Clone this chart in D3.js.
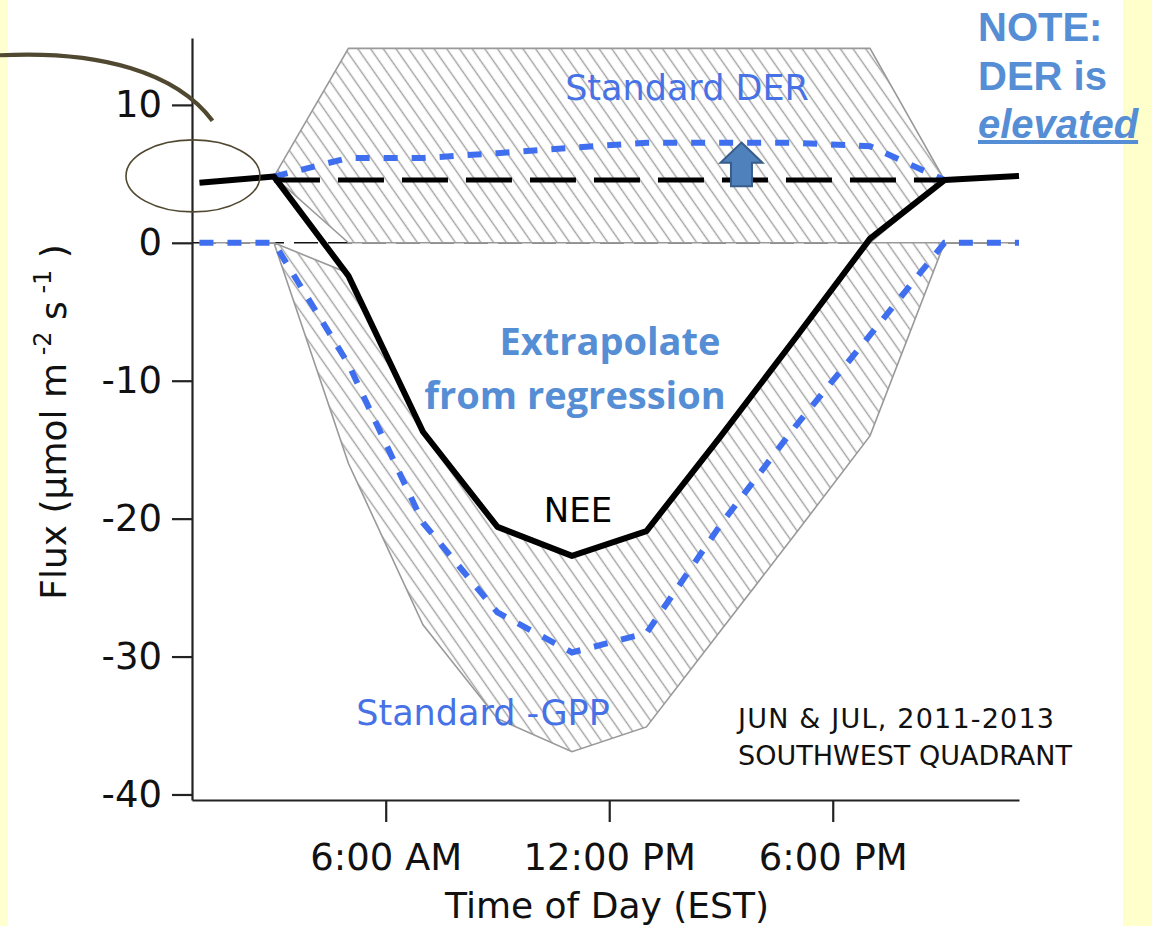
<!DOCTYPE html>
<html>
<head>
<meta charset="utf-8">
<script src="https://cdn.jsdelivr.net/npm/d3@7"></script>
<style>
  html, body { margin: 0; padding: 0; background: #ffffff; }
  svg { display: block; }
</style>
</head>
<body>
<svg id="chart" width="1152" height="926"></svg>
<script>
// Hourly bin centres (EST), two-hour resolution
const hours = [1, 3, 5, 7, 9, 11, 13, 15, 17, 19, 21, 23];

// Net ecosystem exchange (µmol m-2 s-1)
const nee = [4.35, 4.8, -2.4, -13.7, -20.6, -22.7, -20.9, -14.0, -6.9, 0.3, 4.55, 4.85];

// Standard -GPP: mean and band limits
const gppMean  = [0, 0, -8.8, -20.3, -26.8, -29.7, -28.3, -20.4, -13.3, -6.7, 0, 0];
const gppUpper = [0, 0, -2.2, -13.7, -20.6, -22.7, -20.9, -14.0, -6.9, 0, 0, 0];
const gppLower = [0, 0, -16.0, -27.7, -34.5, -36.9, -35.1, -28.1, -21.1, -14.0, 0, 0];

// Standard DER (daytime respiration): mean and band limits
const derHours = [3, 5, 7, 9, 11, 13, 15, 17, 19, 21];
const derMean  = [4.8, 6.15, 6.15, 6.5, 6.9, 7.25, 7.25, 7.25, 7.0, 4.55];
const derUpper = [4.8, 14.1, 14.1, 14.1, 14.1, 14.1, 14.1, 14.1, 14.1, 4.55];
const derLower = [4.8, 0, 0, 0, 0, 0, 0, 0, 0, 4.55];

// Night-time respiration carried through the day
const nightHours = [3, 21];
const nightResp = 4.55;

// Arrow showing DER elevated above night respiration
const arrowHour = 15.55;
const arrowFrom = 4.1;
const arrowTo = 7.27;

// Axis ticks
const yTicks = [-40, -30, -20, -10, 0, 10];
const xTicks = [6, 12, 18];
const xTickLabels = ["6:00 AM", "12:00 PM", "6:00 PM"];

const svg = d3.select("#chart");
const W = 1152, H = 926;

const x = d3.scaleLinear().domain([0.8, 23]).range([192, 1019]);
const y = d3.scaleLinear().domain([-40.4, 14.85]).range([800, 38]);

// page background strips
svg.append("rect").attr("x", 0).attr("y", 0).attr("width", W).attr("height", H).attr("fill", "#ffffff");
svg.append("rect").attr("x", 0).attr("y", 0).attr("width", 8).attr("height", H).attr("fill", "#ffffd0");
svg.append("rect").attr("x", 1123).attr("y", 0).attr("width", W - 1123).attr("height", H).attr("fill", "#ffffcc");

// diagonal hatch
const defs = svg.append("defs");
const hs = 10.4;
const pat = defs.append("pattern")
  .attr("id", "hatch")
  .attr("patternUnits", "userSpaceOnUse")
  .attr("width", hs).attr("height", hs)
  .attr("patternTransform", "rotate(-35)");
pat.append("rect").attr("width", hs).attr("height", hs).attr("fill", "#ffffff");
pat.append("line")
  .attr("x1", hs / 2).attr("y1", 0).attr("x2", hs / 2).attr("y2", hs)
  .attr("stroke", "#a2a2a2").attr("stroke-width", 1.4);

const gppRows = hours.map((h, i) => ({ h, mean: gppMean[i], hi: gppUpper[i], lo: gppLower[i], nee: nee[i] }));
const derRows = derHours.map((h, i) => ({ h, mean: derMean[i], hi: derUpper[i], lo: derLower[i] }));

// zero reference
svg.append("path")
  .datum(x.domain())
  .attr("d", d3.line().x(d => x(d)).y(() => y(0)))
  .attr("stroke", "#111").attr("stroke-width", 1.4)
  .attr("stroke-dasharray", "24,10").attr("fill", "none");

const band = d3.area().x(d => x(d.h)).y0(d => y(d.lo)).y1(d => y(d.hi));

svg.append("path").datum(gppRows).attr("d", band)
  .attr("fill", "url(#hatch)").attr("stroke", "#999999").attr("stroke-width", 1.6);
svg.append("path").datum(derRows).attr("d", band)
  .attr("fill", "url(#hatch)").attr("stroke", "#999999").attr("stroke-width", 1.6);

const blue = "#3f6fef";
svg.append("path").datum(gppRows)
  .attr("d", d3.line().x(d => x(d.h)).y(d => y(d.mean)))
  .attr("fill", "none").attr("stroke", blue).attr("stroke-width", 6)
  .attr("stroke-dasharray", "14,14");
svg.append("path").datum(derRows)
  .attr("d", d3.line().x(d => x(d.h)).y(d => y(d.mean)))
  .attr("fill", "none").attr("stroke", blue).attr("stroke-width", 6)
  .attr("stroke-dasharray", "14,14");

// night respiration baseline
svg.append("path").datum(nightHours)
  .attr("d", d3.line().x(d => x(d)).y(() => y(nightResp)))
  .attr("fill", "none").attr("stroke", "#000").attr("stroke-width", 5)
  .attr("stroke-dasharray", "46,18");

// NEE
svg.append("path").datum(gppRows)
  .attr("d", d3.line().x(d => x(d.h)).y(d => y(d.nee)))
  .attr("fill", "none").attr("stroke", "#000").attr("stroke-width", 6)
  .attr("stroke-linejoin", "round");

// up arrow
{
  const cx = x(arrowHour), yb = y(arrowFrom), yt = y(arrowTo);
  const hh = (yb - yt) * 0.46, hw = 21, sw = 10.5;
  const pts = [
    [cx, yt], [cx + hw, yt + hh], [cx + sw, yt + hh], [cx + sw, yb],
    [cx - sw, yb], [cx - sw, yt + hh], [cx - hw, yt + hh]
  ];
  svg.append("path").attr("d", d3.line()(pts) + "Z")
    .attr("fill", "#4f81bd").attr("stroke", "#385d8a").attr("stroke-width", 2)
    .attr("stroke-linejoin", "miter");
}

// axes
const font = "'DejaVu Sans', Verdana, sans-serif";
const yAxis = svg.append("g").attr("transform", `translate(${x.range()[0]},0)`)
  .call(d3.axisLeft(y).tickValues(yTicks).tickSize(20).tickSizeOuter(0).tickPadding(10).tickFormat(d3.format("d")));
const xAxis = svg.append("g").attr("transform", `translate(0,${y.range()[0]})`)
  .call(d3.axisBottom(x).tickValues(xTicks).tickSize(22).tickSizeOuter(0).tickPadding(22)
    .tickFormat((d, i) => xTickLabels[i]));
[yAxis, xAxis].forEach(g => {
  g.selectAll("path, line").attr("stroke", "#222").attr("stroke-width", 2.2);
  g.selectAll("text").attr("font-family", font).attr("font-size", 37).attr("fill", "#111");
});
yAxis.selectAll("text").text(d => d < 0 ? "-" + Math.abs(d) : d);

// axis titles
svg.append("text").attr("x", 607).attr("y", 918).attr("text-anchor", "middle")
  .attr("font-family", font).attr("font-size", 36).attr("fill", "#111")
  .text("Time of Day (EST)");

const yt = svg.append("text").attr("transform", "translate(66,422) rotate(-90)")
  .attr("text-anchor", "middle").attr("font-family", font).attr("font-size", 36).attr("fill", "#111");
yt.append("tspan").text("Flux (µmol m");
yt.append("tspan").attr("dy", -15).attr("font-size", 24).text(" -2");
yt.append("tspan").attr("dy", 15).text(" s");
yt.append("tspan").attr("dy", -15).attr("font-size", 24).text(" -1");
yt.append("tspan").attr("dy", 15).text(" )");

// in-plot labels
const labelBlue = "#4672e6";
svg.append("text").attr("x", 687).attr("y", 100).attr("text-anchor", "middle")
  .attr("font-family", font).attr("font-size", 35).attr("fill", labelBlue).text("Standard DER");
svg.append("text").attr("x", 483).attr("y", 725).attr("text-anchor", "middle")
  .attr("font-family", font).attr("font-size", 35).attr("fill", labelBlue).text("Standard -GPP");
svg.append("text").attr("x", 578).attr("y", 522).attr("text-anchor", "middle")
  .attr("font-family", font).attr("font-size", 34).attr("fill", "#000").text("NEE");

const noteBlue = "#558ed5";
svg.append("text").attr("x", 610).attr("y", 355).attr("text-anchor", "middle")
  .attr("font-family", "'Open Sans', sans-serif").attr("font-weight", "bold")
  .attr("font-size", 38).attr("fill", noteBlue).text("Extrapolate");
svg.append("text").attr("x", 575).attr("y", 409).attr("text-anchor", "middle")
  .attr("font-family", "'Open Sans', sans-serif").attr("font-weight", "bold")
  .attr("font-size", 38).attr("fill", noteBlue).text("from regression");

svg.append("text").attr("x", 738).attr("y", 728).attr("letter-spacing", 1.2)
  .attr("font-family", font).attr("font-size", 27).attr("fill", "#111").text("JUN & JUL, 2011-2013");
svg.append("text").attr("x", 738).attr("y", 765)
  .attr("font-family", font).attr("font-size", 27).attr("fill", "#111").text("SOUTHWEST QUADRANT");

// note box text
const noteFont = "'Liberation Sans', Arial, sans-serif";
svg.append("text").attr("x", 978).attr("y", 41)
  .attr("font-family", noteFont).attr("font-weight", "bold").attr("font-size", 40)
  .attr("fill", noteBlue).text("NOTE:");
svg.append("text").attr("x", 978).attr("y", 90)
  .attr("font-family", noteFont).attr("font-weight", "bold").attr("font-size", 40)
  .attr("fill", noteBlue).text("DER is");
svg.append("text").attr("x", 978).attr("y", 138)
  .attr("font-family", noteFont).attr("font-weight", "bold").attr("font-style", "italic")
  .attr("font-size", 40).attr("fill", noteBlue).attr("text-decoration", "underline").text("elevated");

// callout: ellipse around the night-time flux and a curved pointer
const callout = "#514831";
svg.append("ellipse")
  .attr("cx", x(0.8) + 1).attr("cy", y(4.85))
  .attr("rx", 67).attr("ry", 36)
  .attr("fill", "none").attr("stroke", callout).attr("stroke-width", 1.6);
{
  const ex = x(1.35), ey = y(8.85);
  const sy = y(13.6);
  const p = d3.path();
  p.moveTo(0, sy);
  p.bezierCurveTo(ex * 0.47, sy - 5, ex * 0.83, sy + 17, ex, ey);
  svg.append("path").attr("d", p.toString())
    .attr("fill", "none").attr("stroke", callout).attr("stroke-width", 4.2);
}
</script>
</body>
</html>
